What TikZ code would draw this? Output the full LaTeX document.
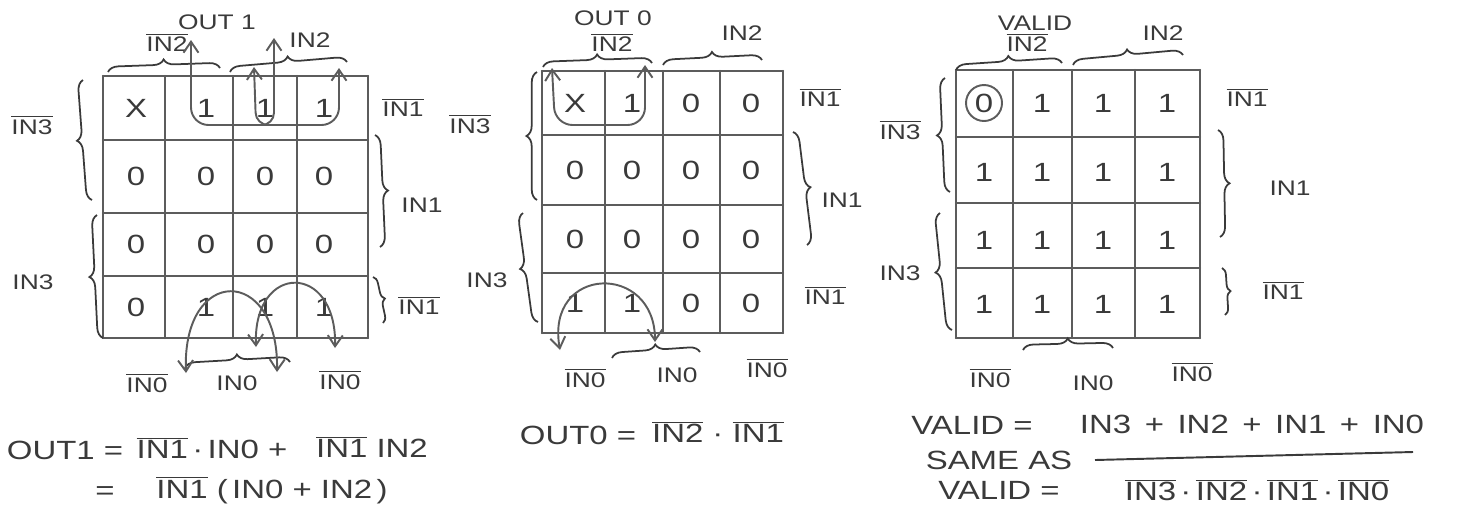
\documentclass[tikz,border=0pt]{standalone}
\usepackage{fontspec}
\setmainfont[FakeStretch=1.25]{Liberation Sans}
\usepackage{tikz}
\usepackage{xcolor}
\usetikzlibrary{arrows.meta,decorations.pathreplacing}
\definecolor{kmink}{HTML}{3A3A3A}
\definecolor{kmgrid}{HTML}{5C5C5C}
\newcommand{\barsig}[1]{$\overline{\mbox{#1}}$}
\tikzset{
  gridLine/.style={draw=kmgrid, line width=1.3pt, line cap=round},
  cellVal/.style={font=\fontsize{15}{15}\selectfont, text=kmink, inner sep=1pt},
  sigLabel/.style={font=\fontsize{12}{12}\selectfont, text=kmink, inner sep=1pt},
  eqText/.style={font=\fontsize{15}{15}\selectfont, text=kmink, inner sep=1pt},
  handBrace/.style={decorate, decoration={brace, amplitude=6pt}, draw=kmink, line width=1pt},
  loopArrow/.style={{Straight Barb[length=2.2mm,width=3mm]}-{Straight Barb[length=2.2mm,width=3mm]}, draw=kmgrid, line width=1.1pt, rounded corners=10pt}
}
\begin{document}
\begin{tikzpicture}[x=0.02cm,y=-0.02cm]
  \useasboundingbox (0,0) rectangle (1461,505);
  % OUT 1
  \foreach \x in {103,165,233,297,368} \draw[gridLine] (\x,76) -- (\x,338);
  \foreach \y in {76,140,213,276,338} \draw[gridLine] (103,\y) -- (368,\y);
  \foreach \r/\y/\vals in {1/108/{X,1,1,1},2/176/{0,0,0,0},3/244/{0,0,0,0},4/307/{0,1,1,1}}
    \foreach \v [count=\c] in \vals {
      \pgfmathsetmacro{\cx}{{136,206,265,324}[\c-1]}
      \node[cellVal] (one-\r\c) at (\cx,\y) {\v};
    }
  \node[sigLabel] (onetitle) at (217,22) {OUT 1};
  \node[sigLabel] (onetopa) at (167,42) {\barsig{IN2}};
  \node[sigLabel] (onetopb) at (310,40) {IN2};
  \draw[handBrace] (108,72) -- (220,68);
  \draw[handBrace] (230,72) -- (347,62);
  \node[sigLabel] (onelefta) at (32,125) {\barsig{IN3}};
  \node[sigLabel] (oneleftb) at (33,282) {IN3};
  \draw[handBrace] (92,200) -- (83,80);
  \draw[handBrace] (103,338) -- (97,215);
  \node[sigLabel] (onerighta) at (403,107) {\barsig{IN1}};
  \node[sigLabel] (onerightb) at (422,205) {IN1};
  \node[sigLabel] (onerightc) at (419,305) {\barsig{IN1}};
  \draw[handBrace] (375,135) -- (380,247);
  \draw[handBrace, decoration={amplitude=4pt}] (373,277) -- (383,323);
  \draw[handBrace] (185,368) -- (290,362);
  \node[sigLabel] (onebota) at (147,383) {\barsig{IN0}};
  \node[sigLabel] (onebotb) at (237,383) {IN0};
  \node[sigLabel] (onebotc) at (340,380) {\barsig{IN0}};
  \draw[loopArrow] (191,40) -- (191,125) -- (339,125) -- (339,68);
  \draw[loopArrow, rounded corners=7pt] (254,67) -- (256,125) -- (274,125) -- (274,38);
  \draw[loopArrow] (186,373) .. controls (182,265) and (279,265) .. (277,372);
  \draw[loopArrow] (256,347) .. controls (253,262) and (337,262) .. (335,348);
  \node[eqText] (eqone) at (65,450) {OUT1 =};
  \node[eqText] (eqonea) at (212,448) {\barsig{IN1}\,·\,IN0 +};
  \node[eqText] (eqoneb) at (372,447) {\barsig{IN1} IN2};
  \node[eqText] (eqtwo) at (105,493) {=};
  \node[eqText] (eqtwob) at (272,490) {\barsig{IN1} (\,IN0 + IN2\,)};
  % OUT 0
  \foreach \x in {542,605,663,720,783} \draw[gridLine] (\x,71) -- (\x,333);
  \foreach \y in {71,135,205,273,333} \draw[gridLine] (542,\y) -- (783,\y);
  \foreach \r/\y/\vals in {1/103/{X,1,0,0},2/170/{0,0,0,0},3/239/{0,0,0,0},4/303/{1,1,0,0}}
    \foreach \v [count=\c] in \vals {
      \pgfmathsetmacro{\cx}{{575,632,691,751}[\c-1]}
      \node[cellVal] (zero-\r\c) at (\cx,\y) {\v};
    }
  \node[sigLabel] (zerotitle) at (613,18) {OUT 0};
  \node[sigLabel] (zerotopa) at (612,42) {\barsig{IN2}};
  \node[sigLabel] (zerotopb) at (742,33) {IN2};
  \draw[handBrace] (543,67) -- (652,63);
  \draw[handBrace] (663,65) -- (762,60);
  \node[sigLabel] (zerolefta) at (470,124) {\barsig{IN3}};
  \node[sigLabel] (zeroleftb) at (487,280) {IN3};
  \draw[handBrace] (537,200) -- (537,72);
  \draw[handBrace] (538,322) -- (523,213);
  \node[sigLabel] (zerorighta) at (820,97) {\barsig{IN1}};
  \node[sigLabel] (zerorightb) at (842,200) {IN1};
  \node[sigLabel] (zerorightc) at (825,295) {\barsig{IN1}};
  \draw[handBrace] (793,132) -- (807,245);
  \draw[handBrace] (612,358) -- (700,352);
  \node[sigLabel] (zerobota) at (585,378) {\barsig{IN0}};
  \node[sigLabel] (zerobotb) at (677,375) {IN0};
  \node[sigLabel] (zerobotc) at (767,368) {\barsig{IN0}};
  \draw[loopArrow] (552,68) -- (555,125) -- (645,125) -- (645,65);
  \draw[loopArrow] (560,350) .. controls (545,265) and (655,262) .. (655,342);
  \node[eqText] (eqzero) at (578,435) {OUT0 =};
  \node[eqText] (eqzerob) at (718,432) {\barsig{IN2} · \barsig{IN1}};
  % VALID
  \foreach \x in {956,1013,1072,1135,1200} \draw[gridLine] (\x,70) -- (\x,338);
  \foreach \y in {70,137,203,268,338} \draw[gridLine] (956,\y) -- (1200,\y);
  \foreach \r/\y/\vals in {1/103/{0,1,1,1},2/172/{1,1,1,1},3/240/{1,1,1,1},4/304/{1,1,1,1}}
    \foreach \v [count=\c] in \vals {
      \pgfmathsetmacro{\cx}{{984,1042,1103,1167}[\c-1]}
      \node[cellVal] (val-\r\c) at (\cx,\y) {\v};
    }
  \node[draw=kmgrid, circle, line width=1.1pt, minimum size=0.72cm] (valring) at (val-11) {};
  \node[sigLabel] (valtitle) at (1035,23) {VALID};
  \node[sigLabel] (valtopa) at (1027,42) {\barsig{IN2}};
  \node[sigLabel] (valtopb) at (1163,33) {IN2};
  \draw[handBrace] (956,70) -- (1062,63);
  \draw[handBrace] (1073,65) -- (1183,55);
  \node[sigLabel] (vallefta) at (900,130) {\barsig{IN3}};
  \node[sigLabel] (valleftb) at (900,273) {IN3};
  \draw[handBrace] (950,192) -- (945,78);
  \draw[handBrace] (952,330) -- (940,213);
  \node[sigLabel] (valrighta) at (1247,97) {\barsig{IN1}};
  \node[sigLabel] (valrightb) at (1290,188) {IN1};
  \node[sigLabel] (valrightc) at (1283,290) {\barsig{IN1}};
  \draw[handBrace] (1218,130) -- (1220,237);
  \draw[handBrace, decoration={amplitude=4pt}] (1222,268) -- (1225,315);
  \draw[handBrace] (1023,350) -- (1113,348);
  \node[sigLabel] (valbota) at (990,378) {\barsig{IN0}};
  \node[sigLabel] (valbotb) at (1093,383) {IN0};
  \node[sigLabel] (valbotc) at (1192,372) {\barsig{IN0}};
  \node[eqText] (eqval) at (972,425) {VALID =};
  \node[eqText] (eqvalb) at (1252,424) {IN3 \,+\, IN2 \,+\, IN1 \,+\, IN0};
  \node[eqText] (same) at (999,460) {SAME AS};
  \node[eqText] (eqvalv) at (999,490) {VALID =};
  \node[eqText] (eqvalc) at (1257,490) {\barsig{IN3}\,·\,\barsig{IN2}\,·\,\barsig{IN1}\,·\,\barsig{IN0}};
  \draw[kmink, line width=1.1pt] (1095,460) -- (1413,452);
\end{tikzpicture}
\end{document}
